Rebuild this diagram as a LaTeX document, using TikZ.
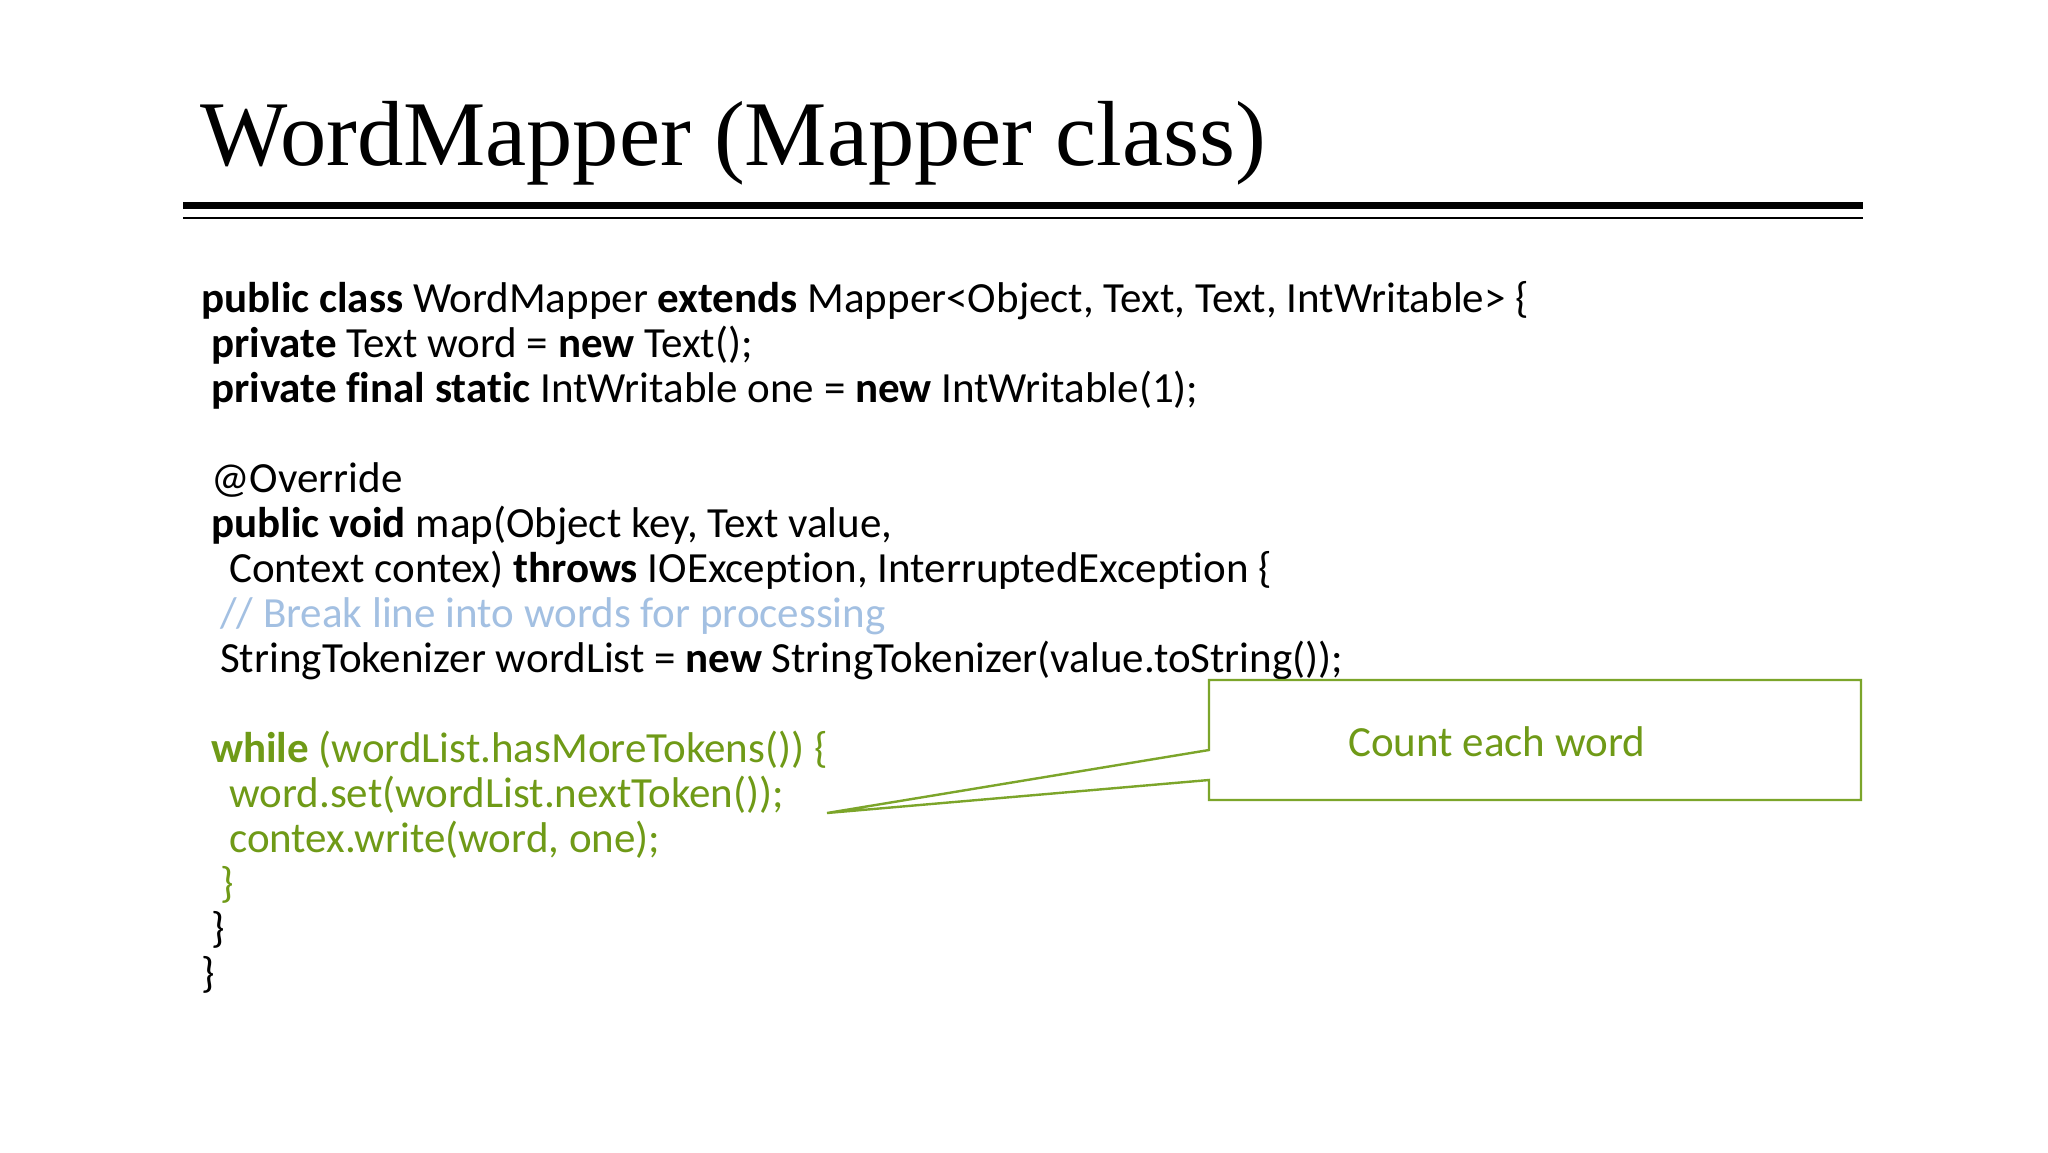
\documentclass[tikz,border=0pt]{standalone}
\usepackage{fontspec}
\setmainfont{Carlito}[Ligatures=NoCommon]
\newfontfamily\titlefont{Liberation Serif}
\definecolor{codegreen}{HTML}{6F9A17}
\definecolor{boxgreen}{HTML}{7CA52A}
\definecolor{commentblue}{HTML}{A3C0E2}
\begin{document}
\begin{tikzpicture}[x=1pt,y=-1pt,
  code/.style={anchor=base west, inner sep=0pt, font=\fontsize{43}{45}\selectfont},
  gcode/.style={code, text=codegreen},
  rule/.style={draw=black}]
\useasboundingbox (0,0) rectangle (2048,1152);
\fill[white] (0,0) rectangle (2048,1152);
% title
\node[anchor=base west, inner sep=0pt, font=\titlefont\fontsize{92.5}{100}\selectfont] (title) at (200,165) {WordMapper (Mapper class)};
\coordinate (r1a) at (183,205); \coordinate (r1b) at (1863,205);
\coordinate (r2a) at (183,218); \coordinate (r2b) at (1863,218);
\draw[rule, line width=7] (r1a) -- (r1b);
\draw[rule, line width=2.6] (r2a) -- (r2b);
% code
\node[code] (l1) at (201,312) {\textbf{public class} WordMapper \textbf{extends} Mapper<Object, Text, Text, IntWritable> \{};
\node[code] (l2) at (211,357) {\textbf{private} Text word = \textbf{new} Text();};
\node[code] (l3) at (211,402) {\textbf{private final static} IntWritable one = \textbf{new} IntWritable(1);};
\node[code] (l5) at (211,492) {@Override};
\node[code] (l6) at (211,537) {\textbf{public void} map(Object key, Text value,};
\node[code] (l7) at (229,582) {Context contex) \textbf{throws} IOException, InterruptedException \{};
\node[code, text=commentblue] (l8) at (220,627) {// Break line into words for processing};
\node[code] (l9) at (220,672) {StringTokenizer wordList = \textbf{new} StringTokenizer(value.toString());};
\node[gcode] (l11) at (211,762) {\textbf{while} (wordList.hasMoreTokens()) \{};
\node[gcode] (l12) at (229,807) {word.set(wordList.nextToken());};
\node[gcode] (l13) at (229,852) {contex.write(word, one);};
\node[gcode] (l14) at (220,897) {\}};
\node[code] (l15) at (211,942) {\}};
\node[code] (l16) at (201,987) {\}};
% callout
\coordinate (tip) at (827,813);
\coordinate (bTL) at (1209,680); \coordinate (bBR) at (1861,800);
\draw[boxgreen, line width=2.4, line join=miter]
  (1209,750) -- (bTL) -- (1861,680) -- (bBR) -- (1209,800) -- (1209,780) -- (tip) -- cycle;
\node[code, text=codegreen] (callout) at (1348,756) {Count each word};
\end{tikzpicture}
\end{document}
